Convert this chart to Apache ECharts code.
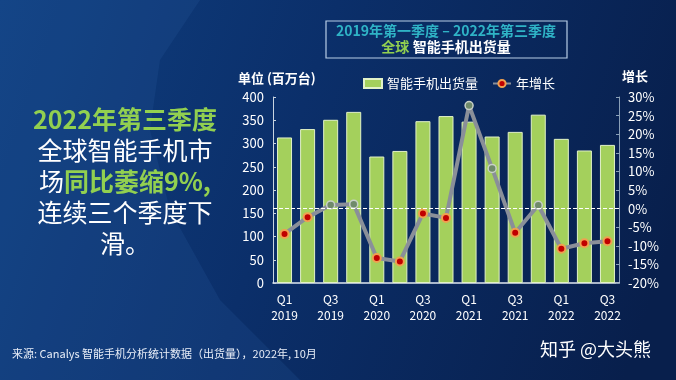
<!DOCTYPE html>
<html><head><meta charset="utf-8">
<script src="https://cdn.jsdelivr.net/npm/echarts@6/dist/echarts.min.js"></script>
<style>html,body{margin:0;padding:0;background:#0a2558;}#c{width:676px;height:380px;}</style>
</head><body><div id="c"></div>
<script>
const categories = ['Q1\n2019','Q2\n2019','Q3\n2019','Q4\n2019','Q1\n2020','Q2\n2020','Q3\n2020','Q4\n2020','Q1\n2021','Q2\n2021','Q3\n2021','Q4\n2021','Q1\n2022','Q2\n2022','Q3\n2022'];
const shipments = [313, 331, 351, 368, 272, 284, 348, 359, 347, 315, 325, 362, 310, 285, 297];
const growth = [-6.8, -2.3, 1.0, 1.2, -13.3, -14.2, -1.3, -2.5, 27.7, 10.8, -6.5, 0.9, -10.8, -9.3, -8.8];
const leftTicks = [0, 400, 50];
const rightTicks = [-20, 30, 5];

const font = '"Noto Sans CJK SC", "Noto Sans", sans-serif';
const chart = echarts.init(document.getElementById('c'), null, {renderer:'canvas'});
const growthData = growth.map(v => ({
  value: v,
  itemStyle: v >= 0
    ? {color: '#6f8a6a', borderColor: '#c8d0c8', borderWidth: 1.5}
    : {color: '#c00000', borderColor: '#f0a050', borderWidth: 2}
}));
chart.setOption({
  backgroundColor: {
    type: 'linear', x: 0, y: 0, x2: 1, y2: 0.6,
    colorStops: [{offset:0, color:'#0f3f80'},{offset:0.45, color:'#0b2f6a'},{offset:1, color:'#081f4c'}]
  },
  textStyle: {fontFamily: font},
  graphic: [
    {type:'polygon', silent:true, z:-1, shape:{points:[[0,0],[200,0],[160,60],[150,130],[170,210],[220,300],[300,380],[0,380]]}, style:{fill:'rgba(40,90,160,0.22)'}},
    {type:'rect', shape:{x:326, y:21, width:241, height:37}, style:{fill:'rgba(0,0,0,0)', stroke:'#b8cde6', lineWidth:1.2}},
    {type:'text', style:{x:446, y:24, text:'2019年第一季度 – 2022年第三季度', fill:'#2fb3c6', font:'bold 14px '+font, align:'center'}},
    {type:'text', style:{x:446, y:40, text:'{g|全球} {w|智能手机出货量}', align:'center',
      rich:{g:{fill:'#92d050', font:'bold 14px '+font}, w:{fill:'#ffffff', font:'bold 14px '+font}}}},
    {type:'text', style:{x:125, y:104, align:'center', lineHeight:30,
      text:'{g|2022年第三季度}\n{w|全球智能手机市}\n{w|场}{g|同比萎缩9%,}\n{w|连续三个季度下}\n{w|滑。}',
      rich:{g:{fill:'#92d050', font:'bold 25px '+font, lineHeight:31}, w:{fill:'#ffffff', font:'25px '+font, lineHeight:31}}}},
    {type:'text', style:{x:238, y:72, text:'单位 (百万台)', fill:'#ffffff', font:'bold 13px '+font}},
    {type:'text', style:{x:622, y:70, text:'增长', fill:'#ffffff', font:'bold 13px '+font}},
    {type:'text', style:{x:12, y:348, text:'来源: Canalys 智能手机分析统计数据（出货量），2022年, 10月', fill:'#e8eef8', font:'11px '+font}},
    {type:'text', style:{x:540, y:340, text:'知乎 @大头熊', fill:'#ffffff', font:'18px '+font}}
  ],
  legend: {
    top: 72, left: 358, itemGap: 14, itemWidth: 18, itemHeight: 9,
    textStyle: {color:'#ffffff', fontSize: 13, fontFamily: font},
    data: [{name:'智能手机出货量', icon:'rect'}, {name:'年增长'}]
  },
  grid: {left: 273, right: 57, top: 97, bottom: 97},
  xAxis: {
    type: 'category', data: categories,
    axisLine: {lineStyle: {color:'#e0e8f0', width: 1.5}},
    axisTick: {show: false},
    axisLabel: {color:'#ffffff', fontSize: 12, interval: 1, lineHeight: 16, margin: 8}
  },
  yAxis: [
    {type:'value', min: leftTicks[0], max: leftTicks[1], interval: leftTicks[2],
      axisLine:{show:true, lineStyle:{color:'#c8d4e0'}}, axisTick:{show:true, inside:true, length:3, lineStyle:{color:'#c8d4e0'}},
      axisLabel:{color:'#ffffff', fontSize: 13, margin: 9}, splitLine:{show:false}},
    {type:'value', min: rightTicks[0], max: rightTicks[1], interval: rightTicks[2], position:'right',
      axisLine:{show:true, lineStyle:{color:'#8aa0b8'}}, axisTick:{show:true, inside:true, length:3, lineStyle:{color:'#8aa0b8'}},
      axisLabel:{color:'#ffffff', fontSize: 13, margin: 9, formatter:'{value}%'}, splitLine:{show:false}}
  ],
  series: [
    {name:'智能手机出货量', type:'bar', data: shipments, barWidth: 15,
      itemStyle:{color:'#a4d05c', borderColor:'#e2f2c8', borderWidth:1}},
    {name:'年增长', type:'line', yAxisIndex: 1, data: growthData, symbol:'circle', symbolSize: 8,
      lineStyle:{color:'#8a8f99', width: 4}, itemStyle:{color:'#c00000', borderColor:'#f0a050', borderWidth:2},
      markLine:{silent:true, symbol:'none', label:{show:false}, lineStyle:{color:'#ffffff', type:'dashed', width:1},
        data:[{yAxis: 0}]}, z: 3}
  ]
});
</script></body></html>
